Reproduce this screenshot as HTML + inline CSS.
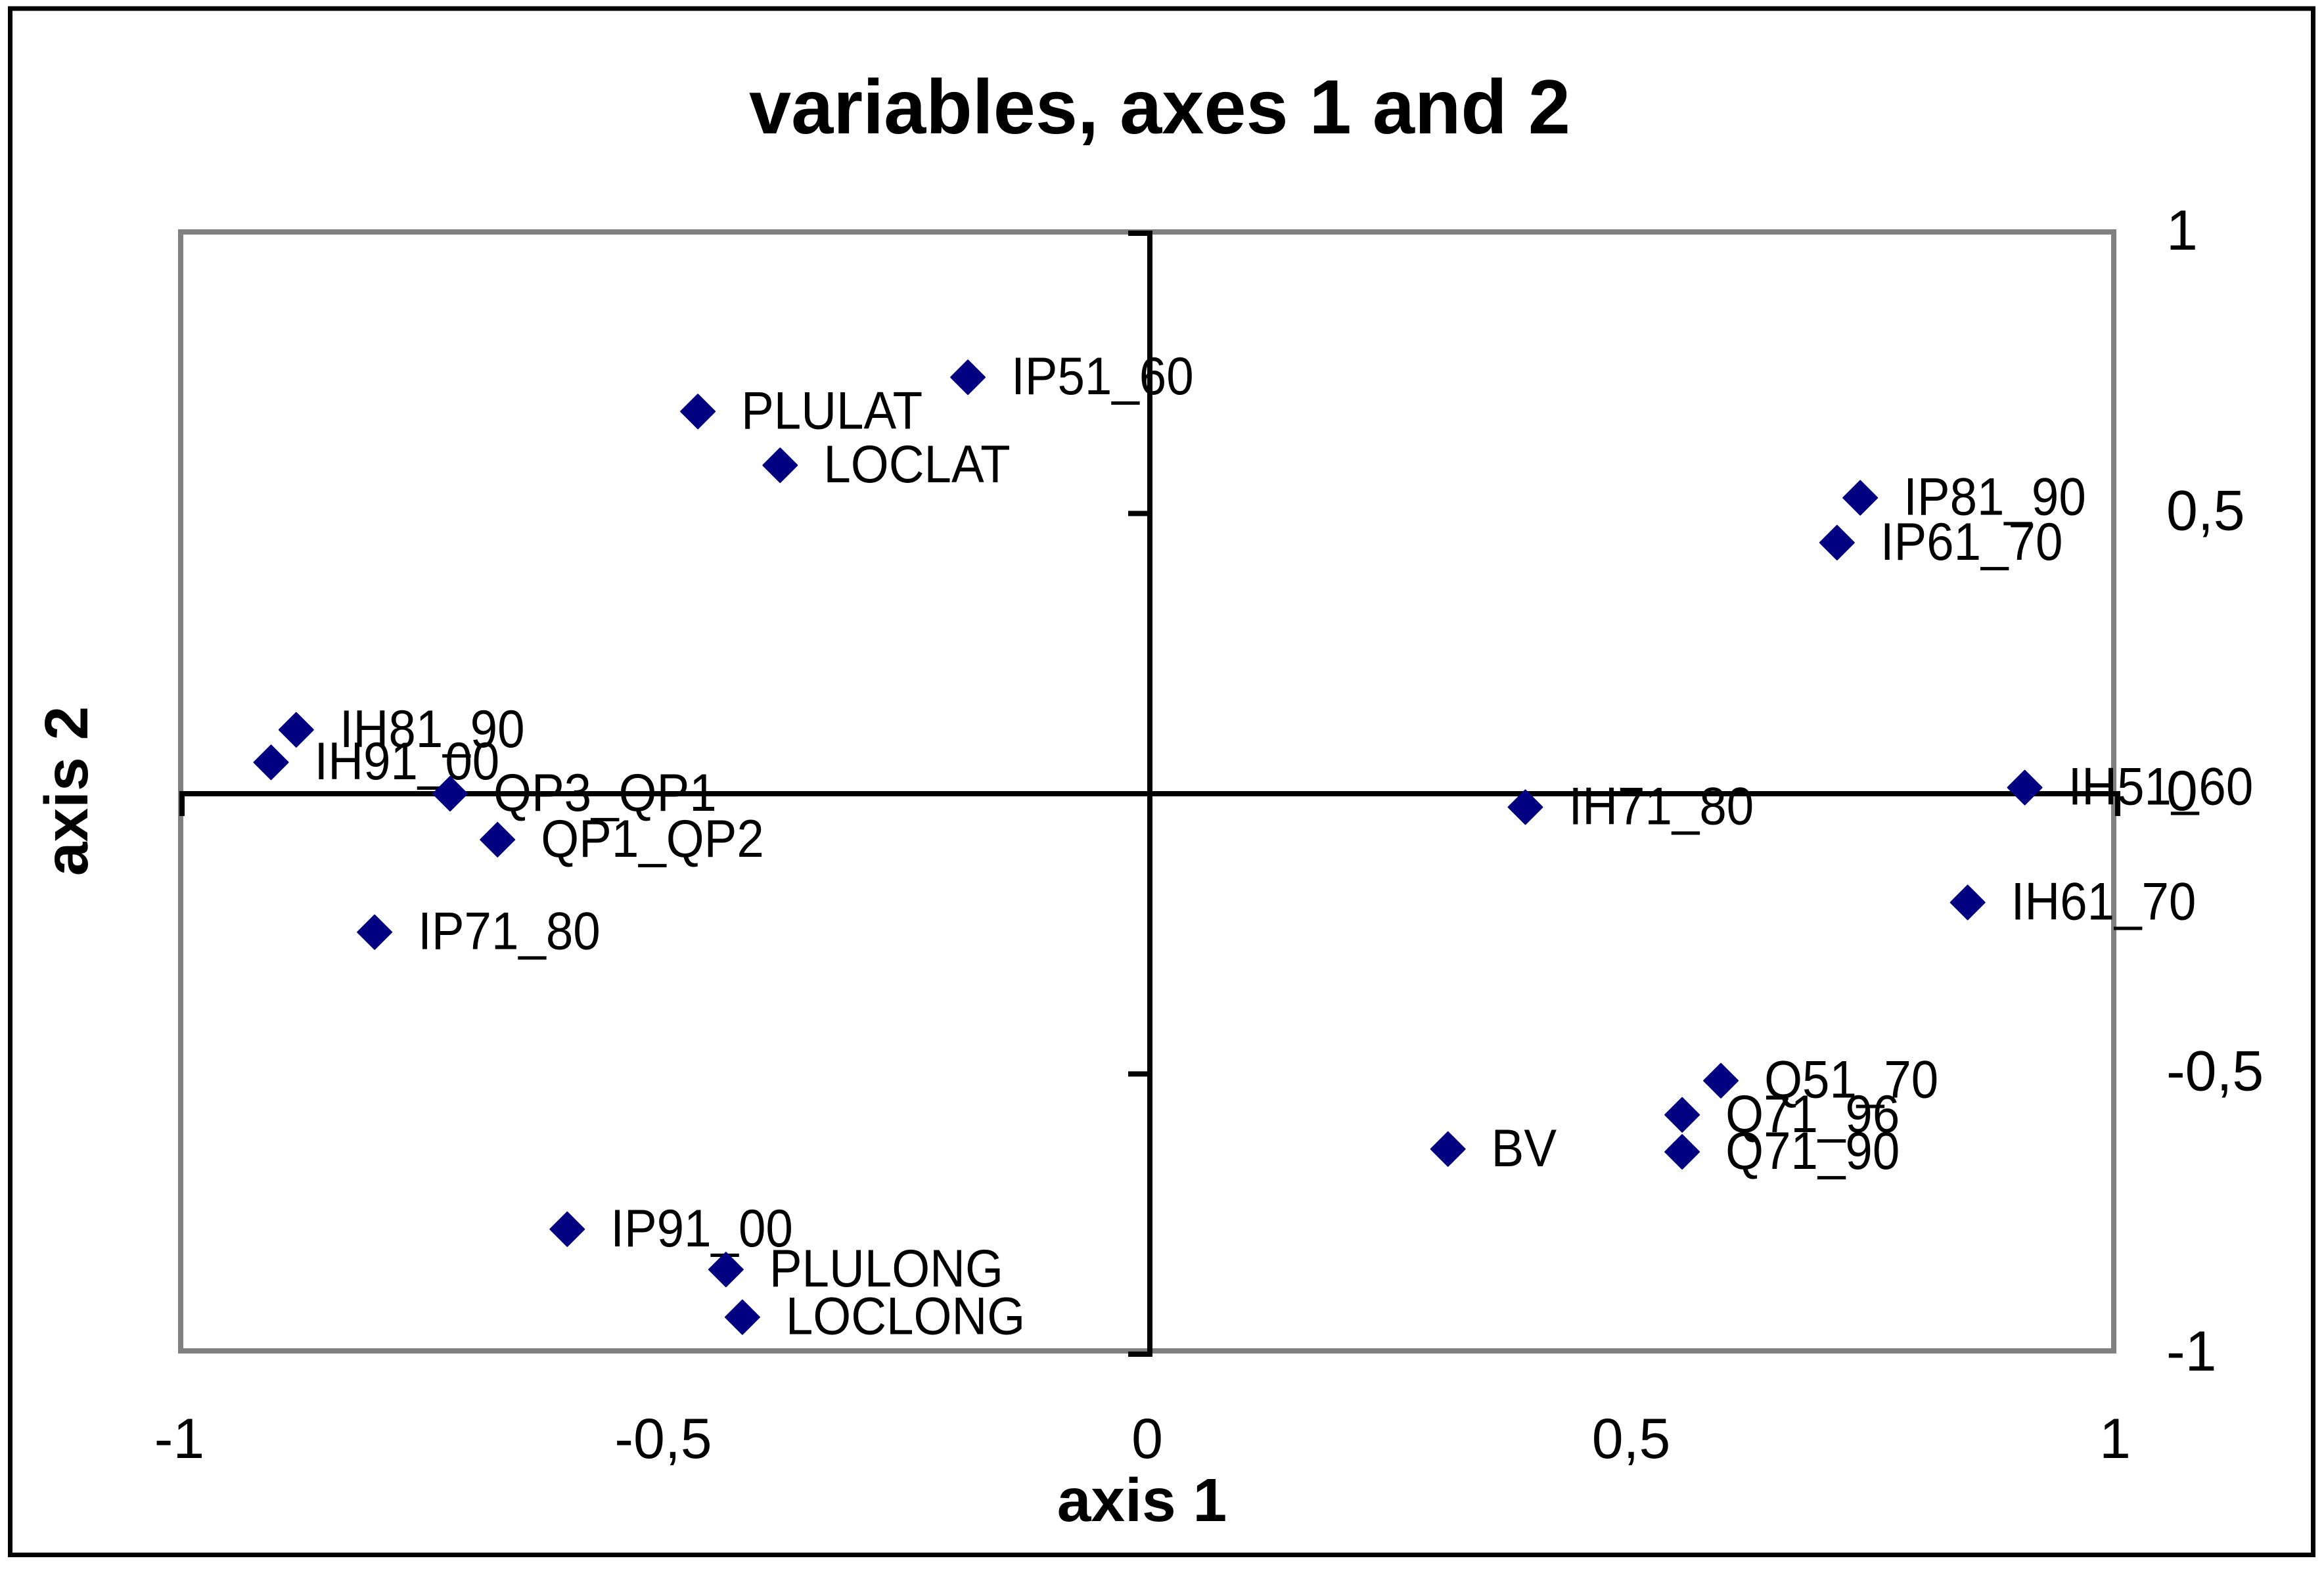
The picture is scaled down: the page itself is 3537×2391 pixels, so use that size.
<!DOCTYPE html>
<html><head><meta charset="utf-8"><style>html,body{margin:0;padding:0;background:#fff}svg{display:block}</style></head>
<body>
<svg id="chart" xmlns="http://www.w3.org/2000/svg" width="3537" height="2391" viewBox="0 0 3537 2391" font-family="'Liberation Sans', Arial, sans-serif">
<rect x="15.5" y="13" width="3505" height="2353.5" fill="#fff" stroke="#000" stroke-width="7"/>
<text x="1765" y="203" text-anchor="middle" font-weight="bold" font-size="117" textLength="1250" lengthAdjust="spacingAndGlyphs">variables, axes 1 and 2</text>
<rect x="275" y="353" width="2942" height="1703" fill="none" stroke="#808080" stroke-width="8"/>
<g id="axes"></g>
<g id="marks"></g>
<text x="1738" y="2315" text-anchor="middle" font-weight="bold" font-size="93">axis 1</text>
<text transform="translate(133,1204) rotate(-90)" text-anchor="middle" font-weight="bold" font-size="93">axis 2</text>
</svg>
<script>
const labels = ["IP51_60","PLULAT","LOCLAT","IP81_90","IP61_70","IH81_90","IH91_00","QP3_QP1","QP1_QP2","IP71_80","IH71_80","IH51_60","IH61_70","Q51_70","Q71_96","Q71_90","BV","IP91_00","PLULONG","LOCLONG"];
const axis1 = [-0.188,-0.467,-0.382,0.734,0.710,-0.882,-0.908,-0.723,-0.674,-0.801,0.388,0.904,0.845,0.590,0.550,0.550,0.308,-0.602,-0.438,-0.421];
const axis2 = [0.743,0.682,0.586,0.528,0.448,0.114,0.056,0.0,-0.082,-0.247,-0.024,0.011,-0.194,-0.512,-0.573,-0.639,-0.634,-0.777,-0.849,-0.934];
const xTicks = [-1,-0.5,0,0.5,1];
const yTicks = [-1,-0.5,0,0.5,1];
const tickText = v => String(v).replace('.',',');

const NS = "http://www.w3.org/2000/svg";
const X0 = 1750, Y0 = 1208, XH = 1473, YH = 853;
const sx = v => X0 + v * XH;
const sy = v => Y0 - v * YH;
function mk(tag, attrs, parent, txt){
  const e = document.createElementNS(NS, tag);
  for (const k in attrs) e.setAttribute(k, attrs[k]);
  if (txt !== undefined) e.textContent = txt;
  parent.appendChild(e);
  return e;
}
const ax = document.getElementById('axes');
const hl = mk('line',{x1:sx(-1),x2:sx(1),y1:sy(0),y2:sy(0),stroke:'#000','stroke-width':8},ax);


const vl = mk('line',{x1:sx(0),x2:sx(0),y1:sy(1),y2:sy(-1),stroke:'#000','stroke-width':8},ax);


yTicks.forEach(v=>{
  const t = mk('line',{x1:sx(0)-33,x2:sx(0)+4,y1:sy(v),y2:sy(v),stroke:'#000','stroke-width':8},ax);
  
  
  const l = mk('text',{x:3297,y:sy(v)+25,'font-size':86},ax,tickText(v));
  
  
});
xTicks.forEach(v=>{
  if (Math.abs(v) === 1) {
    const t = mk('line',{x1:sx(v),x2:sx(v),y1:sy(0)-4,y2:sy(0)+34,stroke:'#000','stroke-width':8},ax);
    
    
  }
  const l = mk('text',{x:sx(v)-4,y:2219,'font-size':86,'text-anchor':'middle'},ax,tickText(v));
  
  
});
const mg = document.getElementById('marks');
labels.forEach((name,i)=>{
  const cx = sx(axis1[i]), cy = sy(axis2[i]);
  const p = mk('path',{d:`M${cx} ${cy-26}L${cx+26} ${cy}L${cx} ${cy+26}L${cx-26} ${cy}Z`,fill:'#000080','stroke-linejoin':'round',stroke:'#000080','stroke-width':2},mg);
  
  
  const t = mk('text',{transform:`translate(${cx+66},${cy+26}) scale(0.92,1)`,'font-size':81},mg,name);
  
  
});
</script>
</body></html>
